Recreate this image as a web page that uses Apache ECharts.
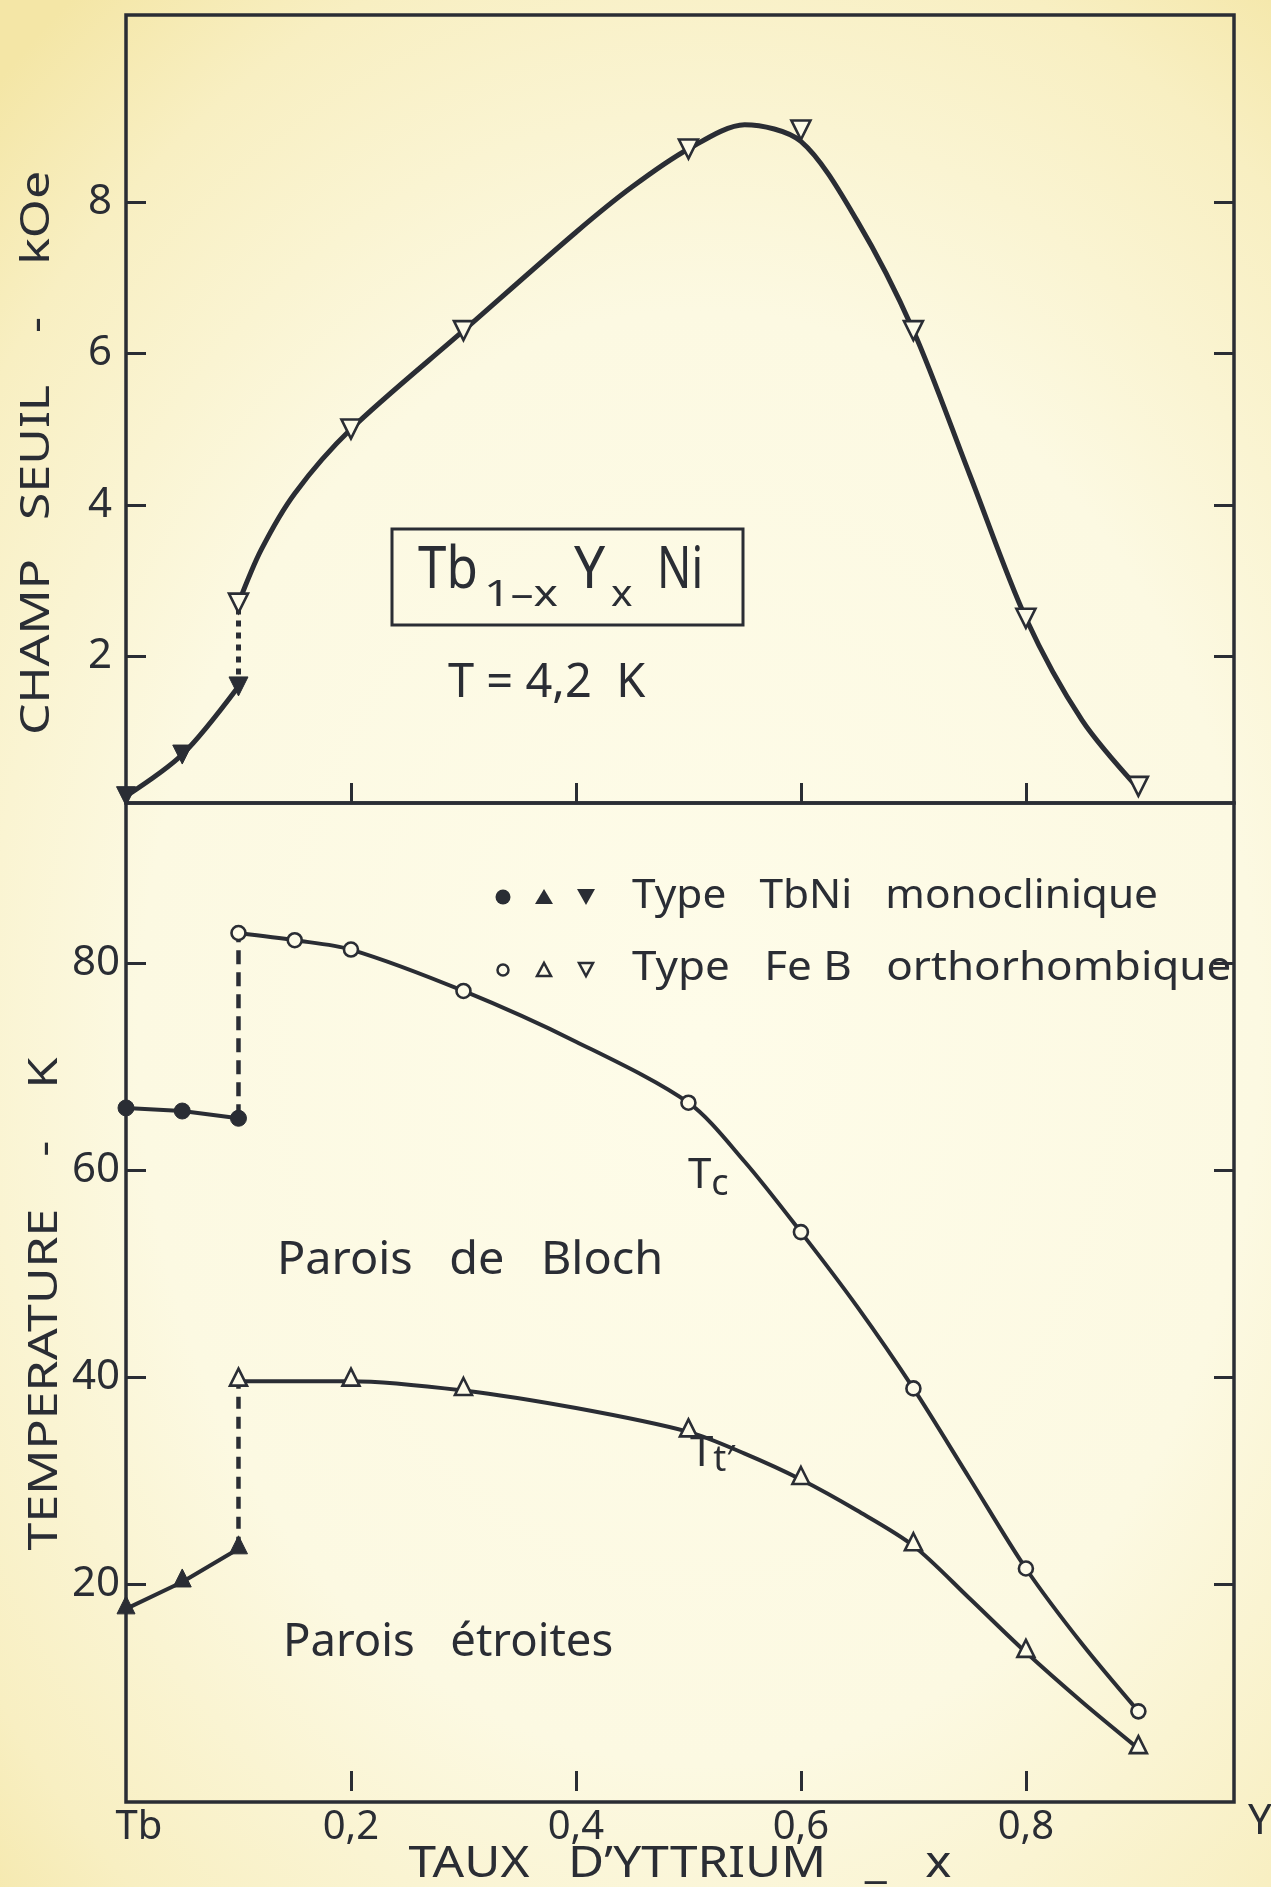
<!DOCTYPE html>
<html><head><meta charset="utf-8">
<script src="https://cdn.jsdelivr.net/npm/echarts@6/dist/echarts.min.js"></script>
<style>
html,body{margin:0;padding:0;width:1271px;height:1887px;overflow:hidden;
background: radial-gradient(ellipse 80% 70% at 55% 55%, #fefce9 0%, #fcf9e2 55%, #f8efc2 85%, #f4e6a6 100%);}
#c{width:1271px;height:1887px;}
</style></head><body><div id="c"></div>
<script>
// ---------------- data ----------------
const xTickValues = [0.2, 0.4, 0.6, 0.8];
const xLabelValues = [0, 0.2, 0.4, 0.6, 0.8];
const fieldTicks = [2, 4, 6, 8];
const tempTicks = [20, 40, 60, 80];

// Champ seuil (kOe), T = 4,2 K  -- measured points
const fieldMonoX = [0, 0.05, 0.1];
const fieldMonoY = [0.15, 0.7, 1.6];
const fieldOrthoX = [0.1, 0.2, 0.3, 0.5, 0.6, 0.7, 0.8, 0.9];
const fieldOrthoY = [2.7, 5.0, 6.3, 8.7, 8.95, 6.3, 2.5, 0.28];
// drawn curve through the orthorhombic points
const fieldCurveX = [0.1, 0.12, 0.15, 0.2, 0.3, 0.4, 0.45, 0.5, 0.55, 0.6, 0.65, 0.7, 0.75, 0.8, 0.85, 0.9];
const fieldCurveY = [2.7, 3.4, 4.15, 5.0, 6.3, 7.6, 8.2, 8.7, 9.02, 8.8, 7.75, 6.3, 4.4, 2.5, 1.15, 0.25];

// Tc (K)
const tcMonoX = [0, 0.05, 0.1];
const tcMonoY = [66.0, 65.7, 65.0];
const tcOrthoX = [0.1, 0.15, 0.2, 0.3, 0.5, 0.6, 0.7, 0.8, 0.9];
const tcOrthoY = [82.9, 82.2, 81.3, 77.3, 66.5, 54.0, 38.9, 21.5, 7.7];
const tcCurveX = [0.1, 0.15, 0.2, 0.3, 0.4, 0.5, 0.55, 0.6, 0.65, 0.7, 0.75, 0.8, 0.85, 0.9];
const tcCurveY = [82.9, 82.2, 81.3, 77.3, 72.4, 66.5, 60.8, 54.0, 46.8, 38.9, 30.2, 21.5, 14.2, 7.7];

// Tt' (K)
const ttMonoX = [0, 0.05, 0.1];
const ttMonoY = [17.6, 20.2, 23.4];
const ttOrthoX = [0.1, 0.2, 0.3, 0.5, 0.6, 0.7, 0.8, 0.9];
const ttOrthoY = [39.6, 39.6, 38.7, 34.7, 30.1, 23.7, 13.4, 4.1];
const ttCurveX = [0.1, 0.2, 0.3, 0.4, 0.5, 0.55, 0.6, 0.65, 0.7, 0.75, 0.8, 0.85, 0.9];
const ttCurveY = [39.6, 39.6, 38.7, 37.0, 34.7, 32.6, 30.1, 27.1, 23.7, 18.6, 13.4, 8.6, 4.1];

// ---------------- chart ----------------
const INK = '#2a2d34';
const BG = '#fdfbe8';
const FAM = '"Noto Sans", "DejaVu Sans", sans-serif';
const zip = (xs, ys) => xs.map((x, i) => [x, ys[i]]);
const L = 126, W = 1108;

const chart = echarts.init(document.getElementById('c'), null, {renderer: 'canvas', width: 1271, height: 1887});

function xAx(grid, labels) {
  return {
    gridIndex: grid, type: 'value', min: 0, max: 0.985,
    axisLine: {show: false}, splitLine: {show: false},
    axisTick: {show: true, inside: true, length: 20, lineStyle: {color: INK, width: 3}, customValues: xTickValues},
    axisLabel: labels ? {show: true, customValues: xLabelValues, color: INK, fontSize: 40, fontFamily: FAM, margin: 6,
      formatter: v => v === 0 ? '{tb|Tb}' : String(v).replace('.', ','),
      rich: {tb: {fontSize: 40, fontFamily: FAM, color: INK, padding: [0, 0, 0, 26]}}} : {show: false}
  };
}
function yAx(grid, min, max, ticks, pos, labels, margin) {
  return {
    gridIndex: grid, type: 'value', min: min, max: max, position: pos,
    axisLine: {show: false}, splitLine: {show: false},
    axisTick: {show: true, inside: true, length: 20, lineStyle: {color: INK, width: 3}, customValues: ticks},
    axisLabel: labels ? {show: true, customValues: ticks, color: INK, fontSize: 42, fontFamily: FAM, margin: margin} : {show: false}
  };
}
function curve(xi, yi, data, width, opt) {
  return Object.assign({
    type: 'line', xAxisIndex: xi, yAxisIndex: yi, data: data, symbol: 'none', smooth: 0.3,
    lineStyle: {color: INK, width: width}, z: 2, silent: true
  }, opt || {});
}
function marks(xi, yi, data, symbol, size, style, opt) {
  return Object.assign({
    type: 'scatter', xAxisIndex: xi, yAxisIndex: yi, data: data, symbol: symbol, symbolSize: size,
    itemStyle: style, z: 4, silent: true
  }, opt || {});
}
const filled = {color: INK, borderColor: INK, borderWidth: 1, opacity: 1};
const open = {color: BG, borderColor: INK, borderWidth: 2.6, opacity: 1};

function txt(x, y, text, size, sx) {
  return {type: 'text', x: x, y: y, scaleX: sx || 1,
    style: {text: text, fill: INK, font: size + 'px ' + FAM, align: 'left', verticalAlign: 'middle'}};
}

const option = {
  backgroundColor: 'transparent',
  animation: false,
  grid: [
    {left: L, top: 15, width: W, height: 788, show: true, borderColor: INK, borderWidth: 3.5, backgroundColor: 'transparent'},
    {left: L, top: 803, width: W, height: 999, show: true, borderColor: INK, borderWidth: 3.5, backgroundColor: 'transparent'}
  ],
  xAxis: [xAx(0, false), xAx(1, true)],
  yAxis: [
    yAx(0, 0.06, 10.47, fieldTicks, 'left', true, 14),
    yAx(0, 0.06, 10.47, fieldTicks, 'right', false),
    yAx(1, -1.06, 95.46, tempTicks, 'left', true, 6),
    yAx(1, -1.06, 95.46, tempTicks, 'right', false)
  ],
  series: [
    // --- top panel ---
    curve(0, 0, [[fieldMonoX[2], fieldMonoY[2]], [fieldOrthoX[0], fieldOrthoY[0]]], 5, {smooth: false, lineStyle: {color: INK, width: 5, type: [6, 6]}}),
    curve(0, 0, zip(fieldMonoX, fieldMonoY), 5),
    curve(0, 0, zip(fieldCurveX, fieldCurveY), 5),
    marks(0, 0, zip(fieldMonoX, fieldMonoY), 'triangle', 19, filled, {symbolRotate: 180}),
    marks(0, 0, zip(fieldOrthoX, fieldOrthoY), 'triangle', 19, open, {symbolRotate: 180}),
    // --- bottom panel: Tc ---
    curve(1, 2, [[tcMonoX[2], tcMonoY[2]], [tcOrthoX[0], tcOrthoY[0]]], 4.5, {smooth: false, lineStyle: {color: INK, width: 4.5, type: [14, 8]}}),
    curve(1, 2, zip(tcMonoX, tcMonoY), 4, {smooth: false}),
    curve(1, 2, zip(tcCurveX, tcCurveY), 4),
    marks(1, 2, zip(tcMonoX, tcMonoY), 'circle', 16, filled),
    marks(1, 2, zip(tcOrthoX, tcOrthoY), 'circle', 14, open),
    // --- bottom panel: Tt' ---
    curve(1, 2, [[ttMonoX[2], ttMonoY[2]], [ttOrthoX[0], ttOrthoY[0]]], 4.5, {smooth: false, lineStyle: {color: INK, width: 4.5, type: [12, 8]}}),
    curve(1, 2, zip(ttMonoX, ttMonoY), 4, {smooth: false}),
    curve(1, 2, zip(ttCurveX, ttCurveY), 4),
    marks(1, 2, zip(ttMonoX, ttMonoY), 'triangle', 18, filled, {symbolOffset: [0, -4]}),
    marks(1, 2, zip(ttOrthoX, ttOrthoY), 'triangle', 17, open, {symbolOffset: [0, -4]})
  ],
  graphic: [
    // axis titles
    {type: 'text', x: 38, y: 453, rotation: Math.PI / 2, scaleX: 1.25,
      style: {text: 'CHAMP   SEUIL    -    kOe', fill: INK, font: '40px ' + FAM, align: 'center', verticalAlign: 'middle'}},
    {type: 'text', x: 46, y: 1304, rotation: Math.PI / 2, scaleX: 1.25,
      style: {text: 'TEMPERATURE    -    K', fill: INK, font: '40px ' + FAM, align: 'center', verticalAlign: 'middle'}},
    {type: 'text', x: 680, y: 1864, scaleX: 1.125,
      style: {text: 'TAUX   D’YTTRIUM   _   x', fill: INK, font: '44px ' + FAM, align: 'center', verticalAlign: 'middle'}},
    {type: 'text', x: 1260, y: 1822,
      style: {text: 'Y', fill: INK, font: '42px ' + FAM, align: 'center', verticalAlign: 'middle'}},
    // compound box
    {type: 'rect', shape: {x: 392, y: 529, width: 351, height: 96},
      style: {fill: 'none', stroke: INK, lineWidth: 3}},
    txt(418, 571, 'Tb', 58, 0.88),
    txt(484, 595, '1–x', 37, 1.25),
    txt(574, 571, 'Y', 58, 0.95),
    txt(611, 595, 'x', 37, 1.1),
    txt(657, 571, 'Ni', 58, 0.78),
    txt(448, 684, 'T = 4,2  K', 47, 1.0),
    // legend
    {type: 'circle', shape: {cx: 503, cy: 897, r: 7.5}, style: {fill: INK}},
    {type: 'polygon', shape: {points: [[535, 904], [553, 904], [544, 889]]}, style: {fill: INK}},
    {type: 'polygon', shape: {points: [[577, 889], [595, 889], [586, 905]]}, style: {fill: INK}},
    txt(632, 897, 'Type   TbNi   monoclinique', 40, 1.06),
    {type: 'circle', shape: {cx: 503, cy: 970, r: 5.5}, style: {fill: BG, stroke: INK, lineWidth: 2.5}},
    {type: 'polygon', shape: {points: [[537, 976], [551, 976], [544, 963]]}, style: {fill: BG, stroke: INK, lineWidth: 2.5}},
    {type: 'polygon', shape: {points: [[579, 963], [593, 963], [586, 976]]}, style: {fill: BG, stroke: INK, lineWidth: 2.5}},
    txt(632, 969, 'Type   Fe B   orthorhombique', 40, 1.1),
    // region labels
    txt(277, 1261, 'Parois   de   Bloch', 45, 1.04),
    txt(283, 1643, 'Parois   étroites', 45, 1.01),
    {type: 'text', x: 688, y: 1176,
      style: {text: '{n|T}{s|c}', align: 'left', verticalAlign: 'middle',
        rich: {n: {fontSize: 42, fontFamily: FAM, fill: INK, lineHeight: 56}, s: {fontSize: 36, fontFamily: FAM, fill: INK, lineHeight: 56, padding: [18, 0, 0, 0]}}}},
    {type: 'text', x: 690, y: 1454,
      style: {text: '{n|T}{s|t′}', align: 'left', verticalAlign: 'middle',
        rich: {n: {fontSize: 42, fontFamily: FAM, fill: INK, lineHeight: 56}, s: {fontSize: 36, fontFamily: FAM, fill: INK, lineHeight: 56, padding: [14, 0, 0, 0]}}}}
  ]
};
chart.setOption(option);
</script>
</body></html>
